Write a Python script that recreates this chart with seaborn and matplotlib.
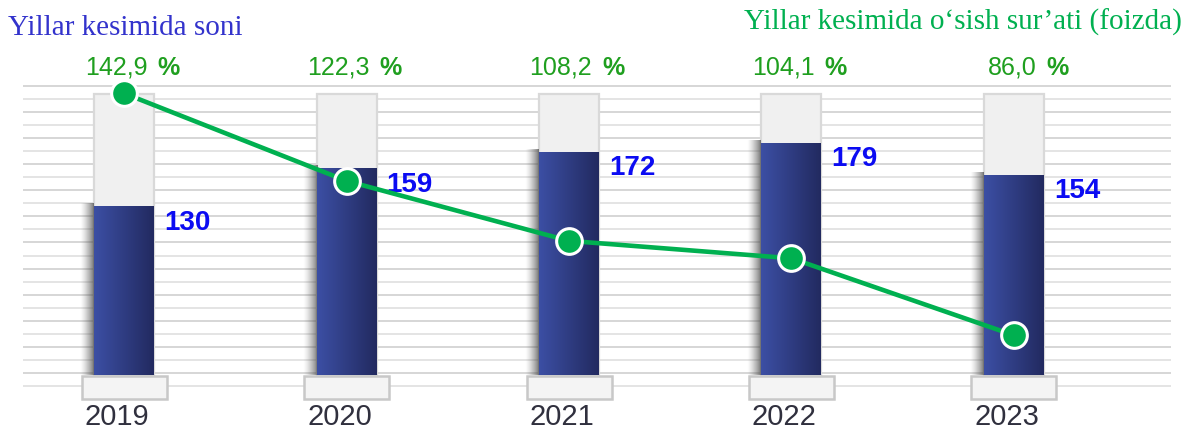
import numpy as np
import pandas as pd
import matplotlib
matplotlib.use("Agg")
import matplotlib.pyplot as plt
import matplotlib.transforms as mtransforms
from matplotlib.colors import LinearSegmentedColormap
from matplotlib.patches import Rectangle
import seaborn as sns

# ---- data -------------------------------------------------------------
years = ["2019", "2020", "2021", "2022", "2023"]
counts = [130, 159, 172, 179, 154]
growth = [142.9, 122.3, 108.2, 104.1, 86.0]
growth_labels = ["142,9", "122,3", "108,2", "104,1", "86,0"]
title_left = "Yillar kesimida soni"
title_right = "Yillar kesimida o\u2018sish sur\u2019ati (foizda)"

df = pd.DataFrame({"year": years, "count": counts, "growth": growth,
                   "pos": np.arange(len(years))})

# ---- style ------------------------------------------------------------
sns.set_theme(style="white")
plt.rcParams["font.family"] = ["Liberation Sans", "DejaVu Sans"]

BAR_DARK = "#222a60"
BAR_LIGHT = "#3c4fa4"
GREEN = "#00b050"
LABEL_GREEN = "#1f9f1f"
VALUE_BLUE = "#0b0bf2"

W, H, DPI = 1185, 427, 100
PX_X = 222.4          # pixels per category step
PX_Y = 1.296          # pixels per count unit
X0_PX = 124.2         # pixel position of the first category
BASE_PX = 376         # pixel row of the bar baseline (from top)
TRACK_TOP = 216.8     # height of the light track behind each bar
PT = 0.72             # points per pixel at 100 dpi

fig = plt.figure(figsize=(W / DPI, H / DPI), dpi=DPI)
ax = fig.add_axes([0, 0, 1, 1])
XLIM = (-X0_PX / PX_X, (W - X0_PX) / PX_X)
YLIM = (-(H - BASE_PX) / PX_Y, BASE_PX / PX_Y)
ax.set_xlim(*XLIM)
ax.set_ylim(*YLIM)
ax.axis("off")


def dx(px):
    return px / PX_X


def dy(px):
    return px / PX_Y


def row(px_from_top):
    return (BASE_PX - px_from_top) / PX_Y


# horizontal rule lines in the background
rule_rows = 87 + 13.04 * np.arange(24)
for k, r in enumerate(rule_rows):
    ax.plot([XLIM[0] + dx(23), XLIM[0] + dx(1171)], [row(r), row(r)],
            color="#d6d6d6" if k % 2 == 0 else "#e4e4e4", lw=1.4, zorder=0,
            solid_capstyle="butt")

bar_w = dx(60)

# light tracks behind the bars
ax.bar(df["pos"], TRACK_TOP, width=bar_w, color="#f0f0f0",
       edgecolor="#d9d9d9", linewidth=1.6, zorder=1)

# value bars through seaborn
n_before = len(ax.patches)
sns.barplot(data=df, x="pos", y="count", order=list(df["pos"]), width=bar_w,
            color=BAR_LIGHT, ax=ax, zorder=3, native_scale=True)
bars = ax.patches[n_before:]

grad_cmap = LinearSegmentedColormap.from_list("barblue", [BAR_LIGHT, BAR_DARK])
grad = np.linspace(0, 1, 256).reshape(1, -1)

shadow_w = 14
ramp = np.linspace(0, 1, 64) ** 1.4
shadow = np.zeros((1, 64, 4))
shadow[..., :3] = 0.30
shadow[..., 3] = ramp * 0.75

for b in bars:
    x, w, h = b.get_x(), b.get_width(), b.get_height()
    b.set_facecolor("none")
    b.set_edgecolor("none")
    # soft shadow on the left side
    ax.imshow(shadow, extent=[x - dx(shadow_w), x, 0, h + dy(3)],
              aspect="auto", zorder=2, interpolation="bilinear")
    # horizontal blue gradient
    ax.imshow(grad, extent=[x, x + w, 0, h], cmap=grad_cmap,
              aspect="auto", zorder=3, interpolation="bilinear")

# base plinths under the bars
for p in df["pos"]:
    ax.add_patch(Rectangle((p - dx(42.5), row(400)), dx(85), dy(23),
                           facecolor="#f4f4f4", edgecolor="#c8c8c8",
                           linewidth=1.8, zorder=4))

ax.set_xlim(*XLIM)
ax.set_ylim(*YLIM)

# value labels right of each bar
for b, v in zip(bars, counts):
    ax.annotate(str(v), xy=(b.get_x() + b.get_width(), v),
                xytext=(10 * PT, -2 * PT), textcoords="offset points",
                ha="left", va="top", fontsize=20, fontweight="bold",
                color=VALUE_BLUE, zorder=6)

# growth line on a twin axis
ax2 = ax.twinx()
ax2.set_position([0, 0, 1, 1])
sns.lineplot(data=df, x="pos", y="growth", ax=ax2, color=GREEN, lw=3.3,
             marker="o", markersize=18.5, markerfacecolor=GREEN,
             markeredgecolor="white", markeredgewidth=2.2, zorder=5)
ax2.set_ylim(64.65, 165.1)
ax2.set_xlim(*XLIM)
ax2.axis("off")

# percentage labels and year labels
top_tr = mtransforms.blended_transform_factory(ax.transData, fig.transFigure)
for p, lab in zip(df["pos"], growth_labels):
    ax2.annotate(lab, xy=(p, 1 - 75 / H), xycoords=top_tr,
                 xytext=(23 * PT, 0), textcoords="offset points",
                 ha="right", va="baseline", fontsize=18, color=LABEL_GREEN)
    ax2.annotate("%", xy=(p, 1 - 75 / H), xycoords=top_tr,
                 xytext=(33 * PT, 0), textcoords="offset points",
                 ha="left", va="baseline", fontsize=18, fontweight="bold",
                 color=LABEL_GREEN)

for p, yr in zip(df["pos"], years):
    ax2.annotate(yr, xy=(p, 1 - 425 / H), xycoords=top_tr,
                 xytext=(-7 * PT, 0), textcoords="offset points",
                 ha="center", va="baseline", fontsize=21, color="#30303e")

# titles
fig.text(8 / W, 1 - 35 / H, title_left, family=["Liberation Serif", "DejaVu Serif"],
         fontsize=21, color="#3333cc", ha="left", va="baseline")
fig.text(1182 / W, 1 - 30 / H, title_right, family=["Liberation Serif", "DejaVu Serif"],
         fontsize=21, color=GREEN, ha="right", va="baseline")

fig.savefig("out.png", dpi=DPI)
